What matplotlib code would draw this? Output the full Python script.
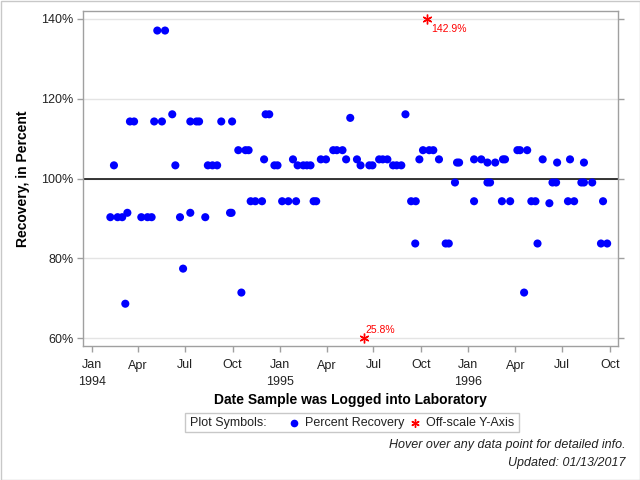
import matplotlib
matplotlib.use("Agg")
import matplotlib.pyplot as plt
import matplotlib.dates as mdates
from matplotlib.patches import Rectangle
from matplotlib.lines import Line2D
import numpy as np

plt.rcParams['font.family'] = ['Liberation Sans', 'DejaVu Sans']

# ---- data ----
dates = [
    '1994-02-06', '1994-02-13', '1994-02-20', '1994-03-01', '1994-03-07', '1994-03-11',
    '1994-03-16', '1994-03-24', '1994-04-07', '1994-04-19', '1994-04-27', '1994-05-02',
    '1994-05-08', '1994-05-17', '1994-05-23', '1994-06-06', '1994-06-12', '1994-06-21',
    '1994-06-27', '1994-07-11', '1994-07-11', '1994-07-23', '1994-07-28', '1994-08-09',
    '1994-08-14', '1994-08-23', '1994-09-01', '1994-09-09', '1994-09-26', '1994-09-29',
    '1994-09-30', '1994-10-12', '1994-10-18', '1994-10-26', '1994-11-01', '1994-11-05',
    '1994-11-14', '1994-11-27', '1994-12-01', '1994-12-04', '1994-12-11', '1994-12-21',
    '1994-12-27', '1995-01-05', '1995-01-17', '1995-01-26', '1995-02-01', '1995-02-04',
    '1995-02-15', '1995-02-22', '1995-03-01', '1995-03-07', '1995-03-12', '1995-03-21',
    '1995-03-31', '1995-04-14', '1995-04-21', '1995-05-02', '1995-05-09', '1995-05-17',
    '1995-05-30', '1995-06-06', '1995-06-23', '1995-06-29', '1995-07-12', '1995-07-19',
    '1995-07-28', '1995-08-08', '1995-08-15', '1995-08-24', '1995-09-01', '1995-09-12',
    '1995-09-20', '1995-09-21', '1995-09-28', '1995-10-05', '1995-10-17', '1995-10-25',
    '1995-11-05', '1995-11-18', '1995-11-24', '1995-12-06', '1995-12-10', '1995-12-14',
    '1996-01-12', '1996-01-12', '1996-01-26', '1996-02-07', '1996-02-07', '1996-02-12',
    '1996-02-22', '1996-03-06', '1996-03-08', '1996-03-12', '1996-03-22', '1996-04-05',
    '1996-04-10', '1996-04-18', '1996-04-24', '1996-05-02', '1996-05-10', '1996-05-14',
    '1996-05-24', '1996-06-06', '1996-06-12', '1996-06-19', '1996-06-21', '1996-07-12',
    '1996-07-16', '1996-07-24', '1996-08-07', '1996-08-12', '1996-08-12', '1996-08-28',
    '1996-09-14', '1996-09-18', '1996-09-26',
]
recovery = [
    90.3, 103.3, 90.3, 90.3, 68.6, 91.4,
    114.3, 114.3, 90.3, 90.3, 90.3, 114.3,
    137.1, 114.3, 137.1, 116.1, 103.3, 90.3,
    77.4, 114.3, 91.4, 114.3, 114.3, 90.3,
    103.3, 103.3, 103.3, 114.3, 91.4, 91.4,
    114.3, 107.1, 71.4, 107.1, 107.1, 94.3,
    94.3, 94.3, 104.8, 116.1, 116.1, 103.3,
    103.3, 94.3, 94.3, 104.8, 94.3, 103.3,
    103.3, 103.3, 103.3, 94.3, 94.3, 104.8,
    104.8, 107.1, 107.1, 107.1, 104.8, 115.2,
    104.8, 103.3, 103.3, 103.3, 104.8, 104.8,
    104.8, 103.3, 103.3, 103.3, 116.1, 94.3,
    83.7, 94.3, 104.8, 107.1, 107.1, 107.1,
    104.8, 83.7, 83.7, 99.0, 104.0, 104.0,
    104.8, 94.3, 104.8, 104.0, 99.0, 99.0,
    104.0, 94.3, 104.8, 104.8, 94.3, 107.1,
    107.1, 71.4, 107.1, 94.3, 94.3, 83.7,
    104.8, 93.8, 99.0, 99.0, 104.0, 94.3,
    104.8, 94.3, 99.0, 99.0, 104.0, 99.0,
    83.7, 94.3, 83.7,
]
off_dates = ['1995-10-12', '1995-06-12']
off_values = [142.9, 25.8]
off_labels = ['142.9%', '25.8%']

y_ticks = [60, 80, 100, 120, 140]
x_tick_dates = ['1994-01-01', '1994-04-01', '1994-07-01', '1994-10-01',
                '1995-01-01', '1995-04-01', '1995-07-01', '1995-10-01',
                '1996-01-01', '1996-04-01', '1996-07-01', '1996-10-01']
x_tick_labels = ['Jan', 'Apr', 'Jul', 'Oct', 'Jan', 'Apr', 'Jul', 'Oct',
                 'Jan', 'Apr', 'Jul', 'Oct']
year_dates = ['1994-01-01', '1995-01-01', '1996-01-01']
year_labels = ['1994', '1995', '1996']

# ---- plot ----
fig = plt.figure(figsize=(6.4, 4.8), dpi=100)
ax = fig.add_axes([83/640, 1 - 346/480, (618-83)/640, (346-11)/480])

ymin, ymax = 58, 142
xd = mdates.date2num(np.array(dates, dtype='datetime64[D]'))
ax.set_xlim(mdates.date2num(np.datetime64('1993-12-15')),
            mdates.date2num(np.datetime64('1996-10-17')))
ax.set_ylim(ymin, ymax)

for yt in y_ticks:
    ax.axhline(yt, color='#e4e4e4', lw=1, zorder=0)
ax.axhline(100, color='black', lw=1.1, zorder=1)

ax.scatter(xd, recovery, s=34, color='#0000ff', edgecolors='none', zorder=3)

# off-scale points clipped to axis range
od = mdates.date2num(np.array(off_dates, dtype='datetime64[D]'))
for x, v, lab in zip(od, off_values, off_labels):
    yv = 140 if v > 140 else 60
    ax.plot([x], [yv], marker=(6, 2, 0), color='red', ms=7, mew=1, ls='none', zorder=4)
    if v > 140:
        ax.annotate(lab, (x, yv), xytext=(3, -7), textcoords='offset points',
                    color='red', fontsize=7.5, va='center', ha='left')
    else:
        ax.annotate(lab, (x, yv), xytext=(1, 6), textcoords='offset points',
                    color='red', fontsize=7.5, va='center', ha='left')

ax.set_yticks(y_ticks)
ax.set_yticklabels([f'{t}%' for t in y_ticks])
ax.set_xticks(mdates.date2num(np.array(x_tick_dates, dtype='datetime64[D]')))
ax.set_xticklabels(x_tick_labels, va='baseline')

yd = mdates.date2num(np.array(year_dates, dtype='datetime64[D]'))
for x, lab in zip(yd, year_labels):
    ax.annotate(lab, xy=(x, 0), xycoords=('data', 'axes fraction'),
                xytext=(0, -27.8), textcoords='offset points',
                ha='center', va='baseline', fontsize=9, color='#222222')

for sp in ax.spines.values():
    sp.set_color('#a0a0a0')
    sp.set_linewidth(1)
ax.tick_params(axis='both', colors='#a0a0a0', labelcolor='#222222', labelsize=9,
               length=4, width=1)
ax.tick_params(axis='y', right=True, pad=3)
ax.tick_params(axis='x', pad=12.2)

ax.set_ylabel('Recovery, in Percent', fontsize=10, fontweight='bold', labelpad=8)
ax.set_xlabel('Date Sample was Logged into Laboratory', fontsize=10,
              fontweight='bold', va='center')
ax.xaxis.set_label_coords(0.5, -(400 - 346) / 335)

# legend box
fig.patches.append(Rectangle((185/640, 1 - 432/480), (519-185)/640, 19/480,
                             transform=fig.transFigure, fill=False,
                             edgecolor='#c8c8c8', lw=1))
ly = 1 - 423/480
fig.text(190/640, ly, 'Plot Symbols:', fontsize=9, va='center', ha='left', color='#222222')
fig.add_artist(Line2D([294/640], [ly], marker='o', color='#0000ff', ms=5.5, mec='none',
                      transform=fig.transFigure))
fig.text(305/640, ly, 'Percent Recovery', fontsize=9, va='center', ha='left', color='#222222')
fig.add_artist(Line2D([415/640], [ly], marker=(6, 2, 0), color='red', ms=6, mew=1,
                      transform=fig.transFigure))
fig.text(426/640, ly, 'Off-scale Y-Axis', fontsize=9, va='center', ha='left', color='#222222')

# footnotes
fig.text(626/640, 1 - 445/480, 'Hover over any data point for detailed info.',
         fontsize=9, style='italic', ha='right', va='center', color='#222222')
fig.text(626/640, 1 - 463/480, 'Updated: 01/13/2017',
         fontsize=9, style='italic', ha='right', va='center', color='#222222')

# outer frame
fig.patches.append(Rectangle((0.5/640, 0.5/480), 639/640, 479/480,
                             transform=fig.transFigure, fill=False,
                             edgecolor='#c8c8c8', lw=1))

fig.savefig('out.png', dpi=100)
